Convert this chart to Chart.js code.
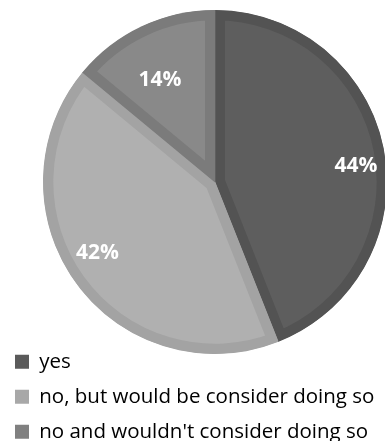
<!DOCTYPE html>
<html>
<head>
<meta charset="utf-8">
<script src="https://cdn.jsdelivr.net/npm/chart.js@4/dist/chart.umd.min.js"></script>
<style>
    html, body { margin: 0; padding: 0; background: #fff; overflow: hidden; }
    #wrap { position: relative; width: 387px; height: 441px; }
</style>
</head>
<body>
<div id="wrap"><canvas id="chart-pie"></canvas></div>
<script>
// 数据
const labels = ['yes', 'no, but would be consider doing so', "no and wouldn't consider doing so"];
const values = [44, 42, 14];
const fillColors = ['#5e5e5e', '#b0b0b0', '#898989'];
const edgeColors = ['#535353', '#a3a3a3', '#7b7b7b'];
const legendColors = ['#5a5a5a', '#a8a8a8', '#808080'];
// label placement: distance as share of radius, small turn off the mid angle (deg)
const labelRadius = [0.825, 0.80, 0.675];
const labelTurn = [4.3, 4.7, -3.1];

// 百分比标签
const pctLabels = {
    id: 'pctLabels',
    afterDatasetsDraw(chart) {
        const ctx = chart.ctx;
        const meta = chart.getDatasetMeta(0);
        ctx.save();
        ctx.fillStyle = '#ffffff';
        ctx.font = 'bold 21px "Open Sans"';
        ctx.textAlign = 'center';
        ctx.textBaseline = 'middle';
        meta.data.forEach((arc, i) => {
            const p = arc.getProps(['x', 'y', 'startAngle', 'endAngle', 'outerRadius'], true);
            const mid = (p.startAngle + p.endAngle) / 2 + labelTurn[i] * Math.PI / 180;
            const r = p.outerRadius * labelRadius[i];
            ctx.fillText(values[i] + '%', p.x + Math.cos(mid) * r, p.y + Math.sin(mid) * r);
        });
        ctx.restore();
    }
};

// 图例放到左下角
const moveLegend = {
    id: 'moveLegend',
    afterLayout(chart) {
        chart.legend.left = 0.5;
        chart.legend.top = 337;
    }
};

new Chart(document.getElementById('chart-pie'), {
    type: 'pie',
    data: {
        labels: labels,
        datasets: [{
            data: values,
            backgroundColor: fillColors,
            borderColor: edgeColors,
            borderWidth: 10,
            borderAlign: 'inner',
            borderJoinStyle: 'miter'
        }]
    },
    options: {
        responsive: true,
        maintainAspectRatio: false,
        animation: false,
        layout: { padding: { left: 43, top: 10, right: 0, bottom: 0 } },
        plugins: {
            tooltip: { enabled: false },
            legend: {
                position: 'bottom',
                align: 'start',
                maxHeight: 87,
                labels: {
                    boxWidth: 14,
                    boxHeight: 14,
                    padding: 14.5,
                    color: '#595959',
                    font: { family: '"Open Sans"', size: 20.5 },
                    generateLabels: () => labels.map((t, i) => ({
                        text: t,
                        fillStyle: legendColors[i],
                        strokeStyle: legendColors[i],
                        lineWidth: 0,
                        hidden: false,
                        index: i
                    }))
                }
            }
        }
    },
    plugins: [pctLabels, moveLegend]
});
</script>
</body>
</html>
